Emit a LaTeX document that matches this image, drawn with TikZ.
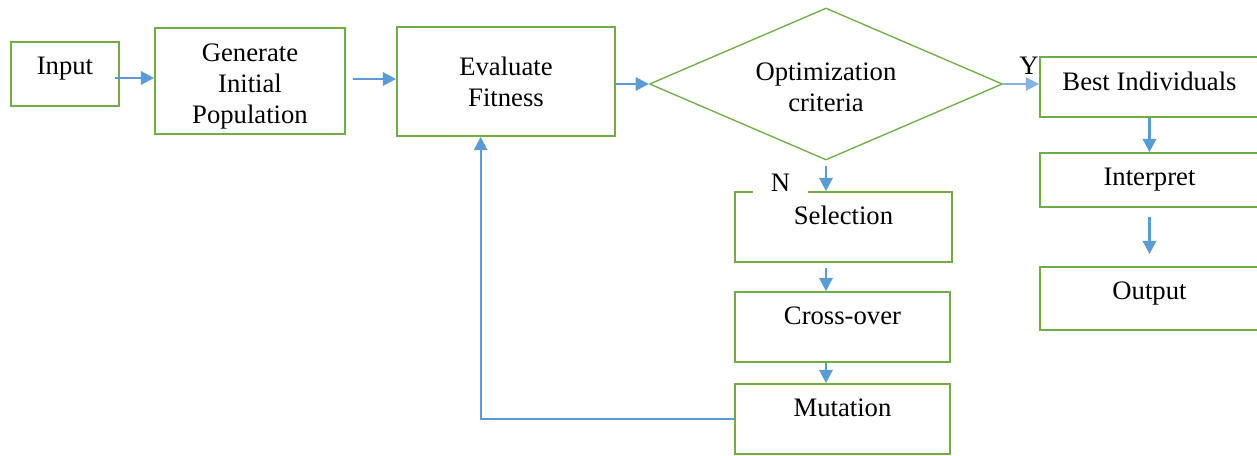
\documentclass[tikz,border=0pt]{standalone}
\usepackage{fontspec}
\setmainfont{Liberation Serif}
\usetikzlibrary{positioning}
\usetikzlibrary{shapes}
\usetikzlibrary{arrows.meta}
\definecolor{boxgreen}{RGB}{112,173,71}
\definecolor{arrowblue}{RGB}{91,155,213}

\tikzset{
  box/.style={draw=boxgreen, line width=1.3pt, inner sep=0pt, align=center, font=\fontsize{20}{23.25}\selectfont},
  decision/.style={diamond, aspect=2.32, draw=boxgreen, line width=1pt, inner sep=0pt, align=center, font=\fontsize{20}{23.25}\selectfont, minimum width=264.75pt, minimum height=114pt},
  flow/.style={draw=arrowblue, line width=2pt, -{Triangle[length=10pt,width=10pt]}},
  tag/.style={inner sep=0pt, font=\fontsize{20}{23.25}\selectfont},
}

\begin{document}
\begin{tikzpicture}[x=0.75pt,y=0.75pt,yscale=-1,xscale=1]
\useasboundingbox (0,0) rectangle (1257,456);

%Shape: Rectangle [input]
\node[box, minimum width=81pt, minimum height=48pt, text depth=11.8pt] (input) at (65,74) {Input};
%Shape: Rectangle [generate]
\node[box, minimum width=142.5pt, minimum height=79.5pt, text height=67.7pt] (gen) at (250,81) {Generate\\Initial\\Population};
%Shape: Rectangle [evaluate]
\node[box, minimum width=163.5pt, minimum height=81.75pt] (eval) at (506,81.5) {Evaluate\\Fitness};
%Shape: Diamond [criteria]
\node[decision, text height=41.5pt] (crit) at (826,84) {Optimization\\criteria};

%Shape: Rectangle [right column]
\node[box, minimum width=164.25pt, minimum height=45pt, text depth=9pt] (best) at (1149.5,87) {Best Individuals};
\node[box, minimum width=164.25pt, minimum height=40.5pt] (interp) at (1149.5,180) {Interpret};
\node[box, minimum width=164.25pt, minimum height=47.25pt, text depth=12pt] (output) at (1149.5,298.5) {Output};

%Shape: Rectangle [loop column]
\node[box, minimum width=162.75pt, minimum height=52.5pt, text depth=18pt] (sel) at (843.5,227) {Selection};
\node[box, minimum width=161.25pt, minimum height=52.5pt, text depth=16.5pt] (cross) at (842.5,327) {Cross-over};
\node[box, minimum width=161.25pt, minimum height=52.5pt, text depth=16.5pt] (mut) at (842.5,419) {Mutation};

% Text Node
\node[tag, fill=white, minimum width=41pt, text depth=3pt, anchor=base] (nlab) at (780.5,192) {N};
% Text Node
\node[tag, anchor=base] (ylab) at (1029,75) {Y};

%Arrows
\draw[flow] ([xshift=-4pt,yshift=3pt]input.east) -- ([yshift=3pt]input.east -| gen.west);
\draw[flow] ([xshift=5pt,yshift=-1.5pt]gen.east) -- ([yshift=-1.5pt]gen.east -| eval.west);
\draw[flow] (eval.east |- crit.west) -- (crit.west);
\draw[flow, line width=1pt, draw=arrowblue!75] (crit.east) -- (crit.east -| best.west);
\draw[flow] ([yshift=4pt]crit.south) -- (crit.south |- sel.north);
\draw[flow] ([yshift=4pt]crit.south |- sel.south) -- (crit.south |- cross.north);
\draw[flow] (crit.south |- cross.south) -- (crit.south |- mut.north);
\draw[flow] (best.south) -- (interp.north);
\draw[flow] ([yshift=7pt]interp.south) -- ([yshift=-9pt]output.north);
\draw[flow, line width=1.6pt] (mut.west) -| ([xshift=-19pt]eval.south);

\end{tikzpicture}
\end{document}
